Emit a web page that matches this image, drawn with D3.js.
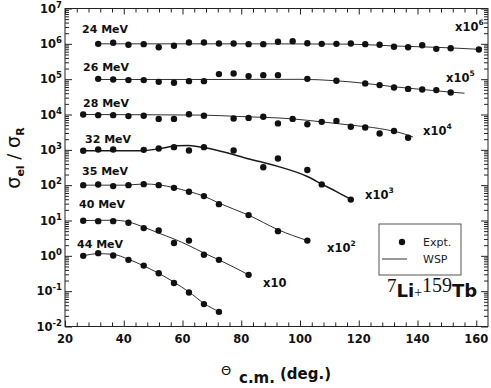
<!DOCTYPE html>
<html>
<head>
<meta charset="utf-8">
<script src="https://cdn.jsdelivr.net/npm/d3@7"></script>
<style>
  body { margin: 0; background: #fff; }
  text { font-family: "DejaVu Sans", sans-serif; }
</style>
</head>
<body>
<svg id="chart" width="491" height="388"></svg>
<script>
// energies and the factor each curve is shifted by
const energies = ["24 MeV", "26 MeV", "28 MeV", "32 MeV", "35 MeV", "40 MeV", "44 MeV"];
const factors = [1e6, 1e5, 1e4, 1e3, 1e2, 1e1, 1];
const factorExp = ["6", "5", "4", "3", "2", "", null];

// measured sigma_el / sigma_R : [theta c.m., ratio]
const expt24 = [[31.3,1.00],[36.4,1.07],[41.6,0.94],[46.8,0.98],[51.9,0.80],[57.1,0.88],[62.2,1.09],[67.3,1.09],[72.4,1.02],[77.4,1.02],[82.5,0.98],[87.5,0.98],[92.5,1.15],[97.5,1.19],[102.5,1.04],[107.4,1.00],[112.4,1.00],[117.3,1.02],[122.2,0.98],[127.1,0.94],[132.0,0.83],[136.8,0.80],[141.6,0.91],[146.4,0.72],[151.3,0.75],[160.9,0.69]];
const expt26 = [[31.3,1.02],[36.4,0.98],[41.6,0.94],[46.8,0.94],[51.9,0.84],[57.1,0.79],[62.2,0.88],[67.3,0.88],[72.4,1.39],[77.4,1.45],[82.5,1.22],[87.5,1.30],[92.5,1.30],[102.5,1.02],[112.4,0.90],[122.2,0.76],[127.1,0.68],[132.0,0.58],[136.8,0.53],[141.6,0.51],[146.4,0.49],[151.3,0.42]];
const expt28 = [[26.2,1.00],[31.3,0.96],[36.4,0.96],[41.6,0.90],[46.8,0.92],[51.9,0.75],[57.1,0.75],[62.2,1.02],[67.3,0.92],[77.4,0.77],[82.5,0.80],[87.5,0.86],[92.5,0.56],[97.5,0.75],[102.5,0.53],[107.4,0.62],[112.4,0.66],[117.3,0.45],[122.2,0.43],[127.1,0.29],[132.0,0.34],[136.8,0.22]];
const expt32 = [[26.2,0.94],[31.3,1.02],[36.4,1.02],[46.8,1.00],[51.9,1.09],[57.1,1.19],[62.2,0.96],[67.3,1.19],[77.4,0.96],[87.5,0.32],[92.5,0.57],[102.5,0.27],[107.4,0.105],[117.3,0.039]];
const expt35 = [[26.2,1.00],[31.3,1.04],[36.4,0.94],[41.6,1.00],[46.8,1.07],[51.9,1.00],[57.1,0.84],[62.2,0.65],[67.3,0.49],[72.4,0.29],[82.5,0.142],[92.5,0.050],[102.5,0.027]];
const expt40 = [[26.2,0.98],[31.3,0.96],[36.4,0.96],[41.6,0.86],[46.8,0.61],[51.9,0.52],[57.1,0.23],[62.2,0.27],[67.3,0.107],[72.4,0.077],[82.5,0.029]];
const expt44 = [[26.2,1.00],[31.3,1.19],[36.4,1.02],[41.6,0.77],[46.8,0.53],[51.9,0.32],[57.1,0.17],[62.2,0.092],[67.3,0.043],[72.4,0.026]];

// WSP optical model fits
const wsp24 = [[31.3,1.00],[60,1.00],[90,1.00],[117,0.98],[132,0.87],[142,0.82],[151,0.77],[161,0.70]];
const wsp26 = [[31.3,0.98],[70,0.98],[100,0.99],[112.4,0.90],[122.2,0.76],[132,0.61],[141.6,0.51],[151.3,0.43],[156,0.40]];
const wsp28 = [[26.2,1.00],[50,0.98],[67,0.96],[79,0.88],[97.5,0.75],[107.4,0.62],[117.3,0.50],[127.1,0.40],[136.8,0.26],[138.5,0.23]];
const wsp32 = [[26.2,0.94],[46,0.94],[52,1.07],[58,1.30],[62,1.33],[65,1.25],[67.3,1.16],[72,0.96],[77,0.75],[83,0.54],[87.5,0.44],[92.5,0.34],[102.5,0.176],[107.4,0.107],[112.4,0.066],[117.3,0.040]];
const wsp35 = [[26.2,1.00],[40,1.00],[47,1.08],[51.9,1.02],[57.1,0.85],[62.2,0.66],[67.3,0.49],[72.4,0.31],[82.5,0.142],[92.5,0.055],[102.5,0.027]];
const wsp40 = [[26.2,1.00],[36.4,1.02],[41.6,0.91],[46.8,0.65],[51.9,0.44],[57.1,0.30],[62.2,0.195],[67.3,0.12],[72.4,0.077],[82.5,0.029]];
const wsp44 = [[26.2,1.00],[31.3,1.15],[36.4,1.10],[41.6,0.80],[46.8,0.52],[51.9,0.32],[57.1,0.18],[62.2,0.095],[67.3,0.045],[72.4,0.026],[73.5,0.023]];

const exptSets = [expt24, expt26, expt28, expt32, expt35, expt40, expt44];
const wspSets = [wsp24, wsp26, wsp28, wsp32, wsp35, wsp40, wsp44];

const xMajor = [20, 40, 60, 80, 100, 120, 140, 160];
const yExponents = [-2, -1, 0, 1, 2, 3, 4, 5, 6, 7];

const svg = d3.select("#chart");
const plotLeft = 65, plotRight = 488, plotTop = 8.5, plotBottom = 326.5;

const x = d3.scaleLinear().domain([20, 164]).range([plotLeft, plotRight]);
const y = d3.scaleLog().domain([1e-2, 1e7]).range([plotBottom, plotTop]);

// minor ticks
const xMinor = d3.range(24, 164, 4).filter(v => v % 20 !== 0);
const yMinor = [];
yExponents.slice(0, -1).forEach(e => { for (let m = 2; m <= 9; m++) yMinor.push(m * 10 ** e); });
const yMajorVals = yExponents.map(e => 10 ** e);

const axisStyle = g => g.call(s => s.selectAll(".domain").remove())
  .call(s => s.selectAll(".tick line").attr("stroke", "#222").attr("stroke-width", 1));

// AXES (ticks point inward)
svg.append("g").attr("transform", `translate(0,${plotBottom})`)
  .call(d3.axisBottom(x).tickValues(xMajor).tickSize(-6).tickFormat(""))
  .call(axisStyle);
svg.append("g").attr("transform", `translate(0,${plotBottom})`)
  .call(d3.axisBottom(x).tickValues(xMinor).tickSize(-4).tickFormat(""))
  .call(axisStyle);
svg.append("g").attr("transform", `translate(0,${plotTop})`)
  .call(d3.axisTop(x).tickValues(xMajor).tickSize(-6).tickFormat(""))
  .call(axisStyle);
svg.append("g").attr("transform", `translate(0,${plotTop})`)
  .call(d3.axisTop(x).tickValues(xMinor).tickSize(-4).tickFormat(""))
  .call(axisStyle);
svg.append("g").attr("transform", `translate(${plotLeft},0)`)
  .call(d3.axisLeft(y).tickValues(yMajorVals).tickSize(-7).tickFormat(""))
  .call(axisStyle);
svg.append("g").attr("transform", `translate(${plotLeft},0)`)
  .call(d3.axisLeft(y).tickValues(yMinor).tickSize(-4).tickFormat(""))
  .call(axisStyle);
svg.append("g").attr("transform", `translate(${plotRight},0)`)
  .call(d3.axisRight(y).tickValues(yMajorVals).tickSize(-7).tickFormat(""))
  .call(axisStyle);
svg.append("g").attr("transform", `translate(${plotRight},0)`)
  .call(d3.axisRight(y).tickValues(yMinor).tickSize(-4).tickFormat(""))
  .call(axisStyle);

// frame
svg.append("rect")
  .attr("x", plotLeft).attr("y", plotTop)
  .attr("width", plotRight - plotLeft).attr("height", plotBottom - plotTop)
  .attr("fill", "none").attr("stroke", "#222").attr("stroke-width", 1);

// TICK LABELS
svg.append("g").selectAll("text")
  .data(xMajor)
  .join("text")
  .attr("x", d => x(d))
  .attr("y", plotBottom + 16)
  .attr("text-anchor", "middle")
  .attr("font-size", 11.5)
  .attr("font-weight", "bold")
  .attr("fill", "#111")
  .text(d => d);

const yLab = svg.append("g").selectAll("text")
  .data(yExponents)
  .join("text")
  .attr("x", 62)
  .attr("y", d => y(10 ** d) + 4)
  .attr("text-anchor", "end")
  .attr("font-size", 11.5)
  .attr("font-weight", "bold")
  .attr("fill", "#111");
yLab.append("tspan").text("10");
yLab.append("tspan").attr("dy", -5).attr("font-size", 8.5).text(d => d < 0 ? "-" + Math.abs(d) : d);

// AXIS TITLES
const yt = svg.append("text")
  .attr("transform", "translate(20,158) rotate(-90)")
  .attr("text-anchor", "middle")
  .attr("fill", "#111");
yt.append("tspan").attr("font-size", 19).text("σ");
yt.append("tspan").attr("font-size", 11).attr("font-weight", "bold").attr("dy", 4).text("el");
yt.append("tspan").attr("font-size", 18).attr("dy", -4).text(" / ");
yt.append("tspan").attr("font-size", 19).text("σ");
yt.append("tspan").attr("font-size", 11).attr("font-weight", "bold").attr("dy", 4).text("R");

svg.append("text").attr("x", 221).attr("y", 375)
  .attr("font-size", 13).attr("fill", "#111").text("Θ");
svg.append("text").attr("x", 239).attr("y", 383)
  .attr("font-size", 15).attr("font-weight", "bold").attr("fill", "#111").text("c.m.");
svg.append("text").attr("x", 280).attr("y", 379)
  .attr("font-size", 15).attr("font-weight", "bold").attr("fill", "#111").text("(deg.)");

// CURVES
const line = d3.line()
  .x(d => x(d[0]))
  .y(d => y(d[1]))
  .curve(d3.curveMonotoneX);

const series = energies.map((e, i) => ({
  energy: e,
  factor: factors[i],
  expt: exptSets[i].map(p => [p[0], p[1] * factors[i]]),
  wsp: wspSets[i].map(p => [p[0], p[1] * factors[i]])
}));

svg.append("g")
  .attr("fill", "none")
  .attr("stroke", "#1a1a1a")
  .selectAll("path")
  .data(series)
  .join("path")
  .attr("stroke-width", d => d.energy === "32 MeV" ? 1.5 : 0.9)
  .attr("d", d => line(d.wsp));

svg.append("g")
  .attr("fill", "#111")
  .selectAll("circle")
  .data(series.flatMap(s => s.expt))
  .join("circle")
  .attr("cx", d => x(d[0]))
  .attr("cy", d => y(d[1]))
  .attr("r", 3.2);

// ENERGY LABELS
const energyPos = [[82, 33], [83, 71], [83, 107], [85, 143], [82, 175], [79, 208], [77, 248]];
svg.append("g").selectAll("text")
  .data(energies)
  .join("text")
  .attr("x", (d, i) => energyPos[i][0])
  .attr("y", (d, i) => energyPos[i][1])
  .attr("font-size", 11)
  .attr("font-weight", "bold")
  .attr("fill", "#111")
  .text(d => d);

// FACTOR LABELS
const factorPos = [[455, 31], [446, 82], [423, 135], [365, 199], [327, 252], [263, 287]];
const fl = svg.append("g").selectAll("text")
  .data(factorPos)
  .join("text")
  .attr("x", d => d[0])
  .attr("y", d => d[1])
  .attr("font-size", 11.5)
  .attr("font-weight", "bold")
  .attr("fill", "#111");
fl.append("tspan").text("x10");
fl.append("tspan").attr("dy", -6).attr("font-size", 7.5).text((d, i) => factorExp[i]);

// LEGEND
const lg = svg.append("g");
lg.append("rect").attr("x", 379).attr("y", 224).attr("width", 82).attr("height", 51)
  .attr("fill", "#fff").attr("stroke", "#555").attr("stroke-width", 1);
lg.append("circle").attr("cx", 402).attr("cy", 242).attr("r", 3.2).attr("fill", "#111");
lg.append("line").attr("x1", 382).attr("x2", 407).attr("y1", 259).attr("y2", 259)
  .attr("stroke", "#1a1a1a").attr("stroke-width", 0.9);
lg.append("text").attr("x", 423).attr("y", 246).attr("font-size", 11).attr("fill", "#222").text("Expt.");
lg.append("text").attr("x", 423).attr("y", 263).attr("font-size", 11).attr("fill", "#222").text("WSP");

// REACTION
const rx = svg.append("text").attr("x", 387).attr("y", 297).attr("fill", "#111");
rx.append("tspan").attr("font-family", "Liberation Serif").attr("font-size", 19).attr("dy", -5).text("7");
rx.append("tspan").attr("font-size", 18).attr("font-weight", "bold").attr("dy", 5).text("Li");
rx.append("tspan").attr("font-family", "Liberation Serif").attr("font-size", 14).text("+");
rx.append("tspan").attr("font-family", "Liberation Serif").attr("font-size", 20).attr("dy", -5).text("159");
rx.append("tspan").attr("font-size", 18).attr("font-weight", "bold").attr("dy", 5).text("Tb");
</script>
</body>
</html>
